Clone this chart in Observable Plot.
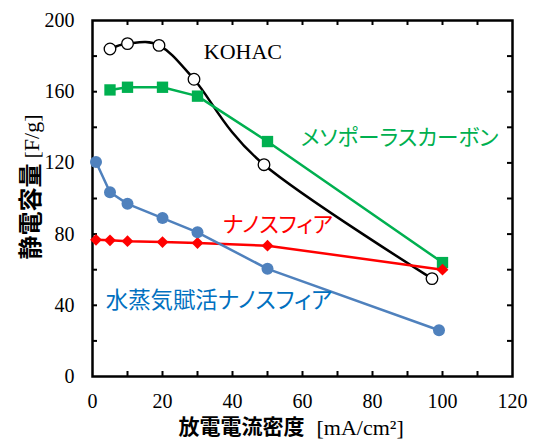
<!DOCTYPE html>
<html><head><meta charset="utf-8">
<script src="https://cdn.jsdelivr.net/npm/d3@7"></script>
<script src="https://cdn.jsdelivr.net/npm/@observablehq/plot@0.6"></script>
<style>
body{margin:0;background:#fff;}
g[font-family*="Noto Sans CJK"] text{font-feature-settings:"palt";}
</style></head><body><div id="chart"></div>
<script>
// Data
const kohacX = [5, 10, 19, 29, 49, 97];
const kohacY = [184, 187, 186, 167, 119, 55];
const mesoX = [5, 10, 20, 30, 50, 100];
const mesoY = [161, 162.5, 162.5, 157.5, 132, 64];
const nanoX = [1, 5, 10, 20, 30, 50, 100];
const nanoY = [76.8, 76.5, 76, 75.5, 75, 73.5, 60];
const steamX = [1, 5, 10, 20, 30, 50, 99];
const steamY = [120.5, 103.5, 97, 89, 81, 60.5, 26];

const xTickLabels = [0, 20, 40, 60, 80, 100, 120];
const yTickLabels = [0, 40, 80, 120, 160, 200];
const xTickMarks = [10, 20, 30, 40, 50, 60, 70, 80, 90, 100, 110];
const yTickMarks = [20, 40, 60, 80, 100, 120, 140, 160, 180];

const seriesNames = ["KOHAC", "メソポーラスカーボン", "ナノスフィア", "水蒸気賦活ナノスフィア"];
const labelX = [31.8, 59.5, 37.2, 3.8];
const labelY = [182.2, 134, 84.8, 42.7];

const xTitle = ["放電電流密度", "[mA/cm²]"];
const yTitle = ["静電容量", "[F/g]"];

const toRows = (xs, ys) => xs.map((x, i) => ({x, y: ys[i]}));
const kohac = toRows(kohacX, kohacY);
const meso = toRows(mesoX, mesoY);
const nano = toRows(nanoX, nanoY);
const steam = toRows(steamX, steamY);
const labels = seriesNames.map((t, i) => ({t, x: labelX[i], y: labelY[i]}));

const jp = "'Noto Sans CJK JP', sans-serif";
const serif = "'Liberation Serif', 'Times New Roman', serif";
const GREEN = "#00B050", RED = "#FF0000", BLUE = "#4F81BD", BLUE_TEXT = "#0070C0";

const chart = Plot.plot({
  width: 534, height: 440,
  marginLeft: 92, marginRight: 22, marginTop: 20, marginBottom: 64,
  x: {domain: [0, 120]},
  y: {domain: [0, 200]},
  style: {background: "white", overflow: "visible"},
  marks: [
    Plot.frame({stroke: "black", strokeWidth: 2.5}),
    Plot.ruleX(xTickMarks, {x: d => d, y1: 0, y2: 0, insetTop: -5, stroke: "black", strokeWidth: 2}),
    Plot.ruleX(xTickMarks, {x: d => d, y1: 200, y2: 200, insetBottom: -5, stroke: "black", strokeWidth: 2}),
    Plot.ruleY(yTickMarks, {y: d => d, x1: 0, x2: 0, insetRight: -5, stroke: "black", strokeWidth: 2}),
    Plot.ruleY(yTickMarks, {y: d => d, x1: 120, x2: 120, insetLeft: -5, stroke: "black", strokeWidth: 2}),
    Plot.axisX(xTickLabels, {tickSize: 0, tickPadding: 17, fontSize: 20, fontFamily: serif, label: null}),
    Plot.axisY(yTickLabels, {tickSize: 0, tickPadding: 18, fontSize: 20, fontFamily: serif, label: null}),

    Plot.line(kohac, {x: "x", y: "y", curve: "cardinal", stroke: "black", strokeWidth: 2.5}),
    Plot.dot(kohac, {x: "x", y: "y", r: 5.8, fill: "white", stroke: "black", strokeWidth: 1.3}),
    Plot.line(meso, {x: "x", y: "y", stroke: GREEN, strokeWidth: 2.5}),
    Plot.dot(meso, {x: "x", y: "y", symbol: "square", r: 6.4, fill: GREEN}),
    Plot.line(nano, {x: "x", y: "y", stroke: RED, strokeWidth: 2.5}),
    Plot.dot(nano, {x: "x", y: "y", symbol: "diamond2", r: 5.3, fill: RED}),
    Plot.line(steam, {x: "x", y: "y", stroke: BLUE, strokeWidth: 2.5}),
    Plot.dot(steam, {x: "x", y: "y", r: 6, fill: BLUE}),

    Plot.text(labels.slice(0, 1), {x: "x", y: "y", text: "t", textAnchor: "start", lineAnchor: "middle", fontSize: 22, fontFamily: serif, fill: "black"}),
    Plot.text(labels.slice(1, 2), {x: "x", y: "y", text: "t", textAnchor: "start", lineAnchor: "middle", fontSize: 21.6, fontFamily: jp, fill: GREEN}),
    Plot.text(labels.slice(2, 3), {x: "x", y: "y", text: "t", textAnchor: "start", lineAnchor: "middle", fontSize: 21.6, fontFamily: jp, fill: RED}),
    Plot.text(labels.slice(3, 4), {x: "x", y: "y", text: "t", textAnchor: "start", lineAnchor: "middle", fontSize: 22.4, fontFamily: jp, fill: BLUE_TEXT}),

    Plot.text([xTitle[0]], {frameAnchor: "bottom", text: d => d, textAnchor: "end", lineAnchor: "middle", dx: 2, dy: 51, fontSize: 21, fontWeight: "bold", fontFamily: jp}),
    Plot.text([xTitle[1]], {frameAnchor: "bottom", text: d => d, textAnchor: "start", lineAnchor: "middle", dx: 14, dy: 51, fontSize: 22, fontFamily: serif}),
    Plot.text([yTitle[0]], {frameAnchor: "left", text: d => d, rotate: -90, textAnchor: "end", lineAnchor: "middle", dx: -61, dy: -35, fontSize: 24, fontWeight: "bold", fontFamily: jp}),
    Plot.text([yTitle[1]], {frameAnchor: "left", text: d => d, rotate: -90, textAnchor: "start", lineAnchor: "middle", dx: -61, dy: -40, fontSize: 22, fontFamily: serif})
  ]
});
document.getElementById("chart").appendChild(chart);
</script></body></html>
